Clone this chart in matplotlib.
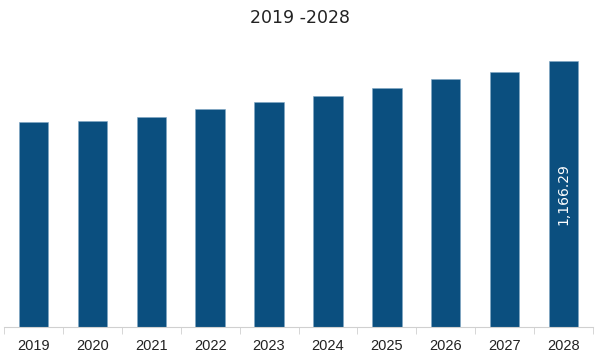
import matplotlib
matplotlib.use("Agg")
import matplotlib.pyplot as plt
import numpy as np

years = ["2019", "2020", "2021", "2022", "2023", "2024", "2025", "2026", "2027", "2028"]
values = [899, 903, 921, 956, 986, 1013, 1048, 1087, 1118, 1166.29]
last_label = "1,166.29"

plt.rcParams['font.family'] = ['Liberation Sans', 'DejaVu Sans']

fig = plt.figure(figsize=(6, 3.58), dpi=100)
ax = fig.add_axes([4 / 600, 1 - 327 / 358, 589 / 600, 287 / 358])

x = np.arange(len(years))
ax.bar(x, values, width=0.5, color="#0B4F7F", edgecolor="#7fa6c4", linewidth=0.4)

ax.set_xlim(-0.5, len(years) - 0.5)
ax.set_ylim(0, 1258)

# value label on the last bar
ax.text(x[-1], values[-1] / 2, last_label, rotation=90, color="white",
        ha="center", va="center", fontsize=10, family="DejaVu Sans")

for s in ["top", "right", "left"]:
    ax.spines[s].set_visible(False)
ax.spines["bottom"].set_color("#d0d0d0")
ax.set_yticks([])

ax.set_xticks(x)
ax.set_xticklabels(years, fontsize=10.5, color="#222222")
ax.tick_params(axis="x", length=0, pad=9)
ax.set_xticks(np.arange(-0.5, len(years)), minor=True)
ax.tick_params(axis="x", which="minor", length=5, color="#d0d0d0")

fig.text(0.5, 1 - 18 / 358, "2019 -2028", ha="center", va="center",
         fontsize=12.5, color="#222222", family="DejaVu Sans")

fig.savefig("out.png", dpi=100)
